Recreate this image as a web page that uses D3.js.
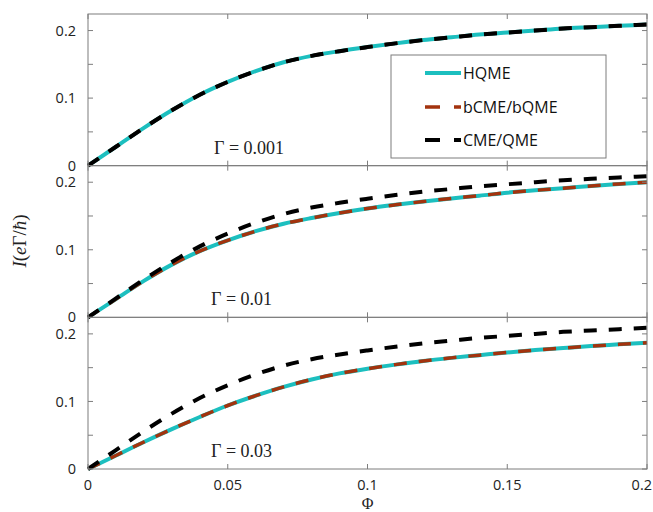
<!DOCTYPE html>
<html>
<head>
<meta charset="utf-8">
<script src="https://cdn.jsdelivr.net/npm/d3@7.9.0/dist/d3.min.js"></script>
<style>
  body { margin: 0; background: #fff; }
  svg { display: block; }
  .tick-label { font-family: "Open Sans", sans-serif; font-size: 14.5px; fill: #222; }
  .legend-text { font-family: "Open Sans", sans-serif; font-size: 16px; fill: #111; }
  .math { font-family: "Liberation Serif", serif; fill: #222; }
</style>
</head>
<body>
<svg id="chart" width="653" height="512"></svg>
<script>
// flux values (x axis)
const phi = [0, 0.01, 0.02, 0.03, 0.04, 0.05, 0.06, 0.07, 0.08, 0.09, 0.10,
             0.11, 0.12, 0.13, 0.14, 0.15, 0.16, 0.17, 0.18, 0.19, 0.20];

// CME/QME current, same in every panel
const cme = [0, 0.028, 0.056, 0.082, 0.105, 0.124, 0.140, 0.153, 0.1625, 0.1695, 0.1755,
             0.181, 0.186, 0.190, 0.194, 0.197, 0.200, 0.203, 0.205, 0.207, 0.209];

// HQME current for each Gamma (bCME/bQME lies on top of it)
const hqme001 = [0, 0.028, 0.056, 0.082, 0.105, 0.124, 0.140, 0.153, 0.1625, 0.1695, 0.1755,
                 0.181, 0.186, 0.190, 0.194, 0.197, 0.200, 0.203, 0.205, 0.207, 0.209];
const hqme01 = [0, 0.027, 0.054, 0.078, 0.098, 0.114, 0.1275, 0.1385, 0.147, 0.1545, 0.161,
                0.1665, 0.1715, 0.176, 0.180, 0.1845, 0.188, 0.191, 0.1945, 0.1975, 0.200];
const hqme03 = [0, 0.020, 0.040, 0.059, 0.077, 0.094, 0.1085, 0.1215, 0.1325, 0.1415, 0.1485,
                0.1545, 0.160, 0.1645, 0.1685, 0.1725, 0.176, 0.179, 0.182, 0.1845, 0.187];

const gammaLabels = ['Γ = 0.001', 'Γ = 0.01', 'Γ = 0.03'];
const xTicks = [0, 0.05, 0.1, 0.15, 0.2];
const yTicks = [0, 0.05, 0.1, 0.15, 0.2];
const yLabeled = [0, 0.1, 0.2];
const seriesNames = ['HQME', 'bCME/bQME', 'CME/QME'];

const panels = [
  { hqme: hqme001, bcme: hqme001, cme: cme, label: gammaLabels[0] },
  { hqme: hqme01, bcme: hqme01, cme: cme, label: gammaLabels[1] },
  { hqme: hqme03, bcme: hqme03, cme: cme, label: gammaLabels[2] }
];

const plotLeft = 88, plotRight = 647, plotTop = 14, plotBottom = 469;
const panelH = (plotBottom - plotTop) / 3;
const axisColor = '#7d7d7d';
const colors = { hqme: '#1cbfbf', bcme: '#a3330e', cme: '#000' };
const dash = '13,12';

const svg = d3.select('#chart');
const x = d3.scaleLinear().domain([0, 0.2]).range([plotLeft, plotRight]);

panels.forEach((p, i) => {
  const y0 = plotTop + i * panelH;
  const y = d3.scaleLinear().domain([0, 0.2245]).range([y0 + panelH, y0]);
  const g = svg.append('g');

  const line = d3.line()
    .x((d, k) => x(phi[k]))
    .y((d) => y(d))
    .curve(d3.curveMonotoneX);

  g.append('path').attr('d', line(p.hqme))
    .attr('fill', 'none').attr('stroke', colors.hqme).attr('stroke-width', 4);
  g.append('path').attr('d', line(p.bcme))
    .attr('fill', 'none').attr('stroke', colors.bcme).attr('stroke-width', 3.5)
    .attr('stroke-dasharray', dash);
  g.append('path').attr('d', line(p.cme))
    .attr('fill', 'none').attr('stroke', colors.cme).attr('stroke-width', 4)
    .attr('stroke-dasharray', dash);

  // box
  g.append('rect')
    .attr('x', plotLeft).attr('y', y0)
    .attr('width', plotRight - plotLeft).attr('height', panelH)
    .attr('fill', 'none').attr('stroke', axisColor).attr('stroke-width', 1);

  // ticks, inward on all sides
  xTicks.forEach((t) => {
    g.append('line').attr('x1', x(t)).attr('x2', x(t))
      .attr('y1', y0 + panelH).attr('y2', y0 + panelH - 5).attr('stroke', axisColor);
    g.append('line').attr('x1', x(t)).attr('x2', x(t))
      .attr('y1', y0).attr('y2', y0 + 5).attr('stroke', axisColor);
  });
  yTicks.forEach((t) => {
    g.append('line').attr('x1', plotLeft).attr('x2', plotLeft + 5)
      .attr('y1', y(t)).attr('y2', y(t)).attr('stroke', axisColor);
    g.append('line').attr('x1', plotRight).attr('x2', plotRight - 5)
      .attr('y1', y(t)).attr('y2', y(t)).attr('stroke', axisColor);
  });
  yLabeled.forEach((t) => {
    g.append('text').attr('class', 'tick-label')
      .attr('x', 76).attr('y', y(t)).attr('dy', '0.35em')
      .attr('text-anchor', 'end').text(d3.format('~g')(t));
  });

  g.append('text').attr('class', 'math')
    .attr('x', [214, 211, 211][i]).attr('y', y0 + panelH - 12)
    .attr('font-size', 18).text(p.label);

  if (i === 2) {
    xTicks.forEach((t, k) => {
      g.append('text').attr('class', 'tick-label')
        .attr('x', k === xTicks.length - 1 ? 652 : x(t)).attr('y', plotBottom + 21)
        .attr('text-anchor', k === xTicks.length - 1 ? 'end' : 'middle')
        .text(d3.format('~g')(t));
    });
  }
});

// axis titles
svg.append('text').attr('class', 'math')
  .attr('x', x(0.1)).attr('y', 509).attr('text-anchor', 'middle')
  .attr('font-size', 16).text('Φ');

const yl = svg.append('text').attr('class', 'math')
  .attr('transform', 'translate(26,241) rotate(-90)')
  .attr('text-anchor', 'middle').attr('font-size', 19);
yl.append('tspan').attr('font-style', 'italic').text('I');
yl.append('tspan').text('(');
yl.append('tspan').attr('font-style', 'italic').text('e');
yl.append('tspan').text('Γ/');
yl.append('tspan').attr('font-style', 'italic').text('ħ');
yl.append('tspan').text(')');

// legend
const lg = svg.append('g');
lg.append('rect').attr('x', 391).attr('y', 55).attr('width', 215).attr('height', 103)
  .attr('fill', '#fff').attr('stroke', axisColor);
const legendStyles = [
  { color: colors.hqme, width: 4, dash: null },
  { color: colors.bcme, width: 3.5, dash: '15,14' },
  { color: colors.cme, width: 4, dash: '15,14' }
];
seriesNames.forEach((name, k) => {
  const ly = [73, 107, 140][k];
  lg.append('line').attr('x1', 425).attr('x2', 461).attr('y1', ly).attr('y2', ly)
    .attr('stroke', legendStyles[k].color).attr('stroke-width', legendStyles[k].width)
    .attr('stroke-dasharray', legendStyles[k].dash);
  lg.append('text').attr('class', 'legend-text')
    .attr('x', 463).attr('y', ly).attr('dy', '0.36em').text(name);
});
</script>
</body>
</html>
